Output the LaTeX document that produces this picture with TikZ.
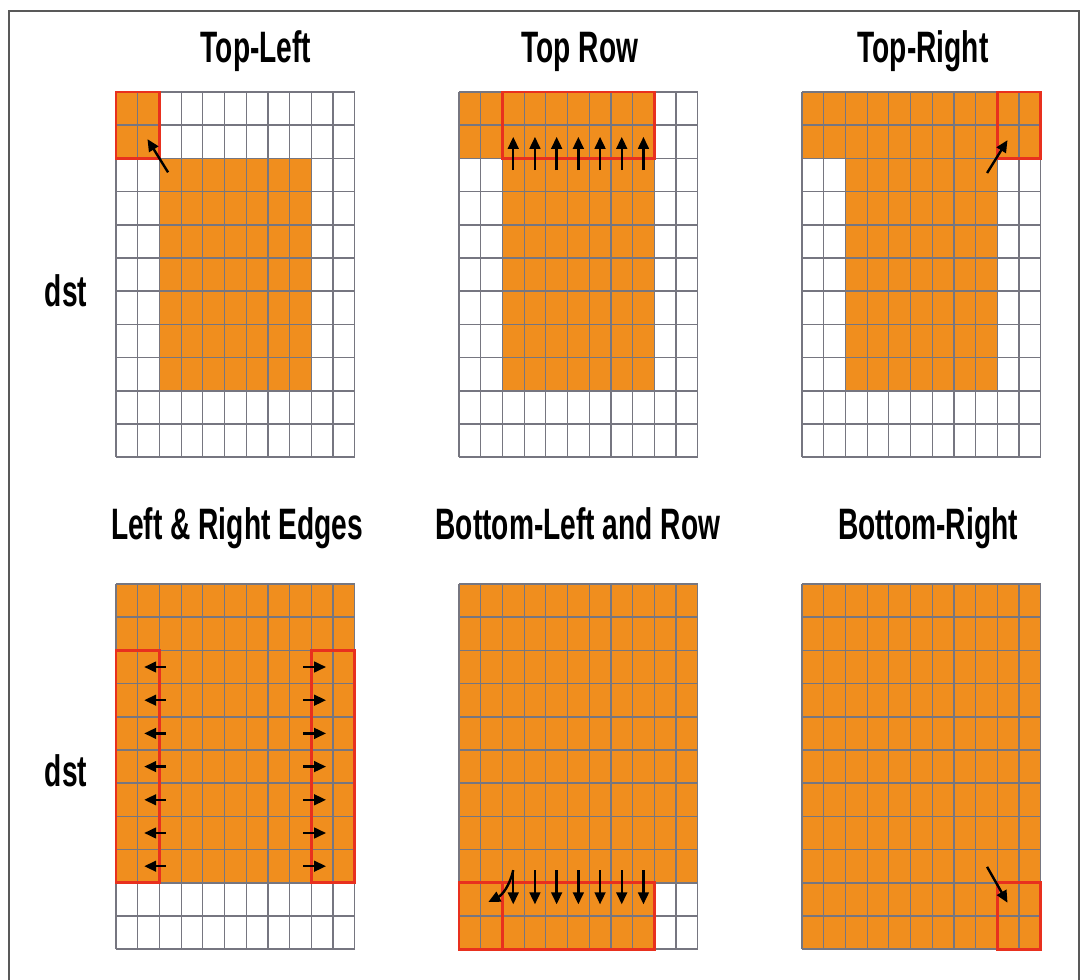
\documentclass[tikz,border=0pt]{standalone}
\usepackage{fontspec}
\newfontfamily\labelfont[FakeStretch=0.64]{Liberation Sans}
\usetikzlibrary{arrows.meta}
\definecolor{cellFill} {RGB}{240,142,30}
\definecolor{cellLine} {RGB}{118,118,128}
\definecolor{haloRed}  {RGB}{232,48,30}
\definecolor{frameGray}{gray}{0.35}

% 11 x 11 cells, drawn in cell units
\newcommand\cellgrid{%
  \foreach \i in {0,...,11} \draw[vline] (\i,0) -- (\i,11);
  \foreach \j in {0,...,11} \draw[hline] (0,\j) -- (11,\j);
}

\begin{document}
\begin{tikzpicture}[x=0.75pt, y=-0.75pt,
      title/.style={font=\labelfont\bfseries\fontsize{33}{36}\selectfont, anchor=base},
      hotcell/.style={fill=cellFill},
      vline/.style={draw=cellLine, line width=0.9pt},
      hline/.style={draw=cellLine, line width=1.3pt},
      halo/.style={draw=haloRed, line width=2.1pt},
      mv/.style={-{Triangle[length=9pt,width=8pt]}, line width=1.8pt, draw=black},
      panel/.style={x=16.275pt, y=-24.9pt}]
    \useasboundingbox (0,0) rectangle (1083,980);
    \draw[frameGray, line width=1.1pt] (9,980) -- (9,11) -- (1079,11) -- (1079,980);

    % titles
    \node[title] (t-tl) at (256,63) {Top-Left};
    \node[title] (t-tr) at (580,63) {Top Row};
    \node[title] (t-trt) at (923,63) {Top-Right};
    \node[title] (t-lr) at (237,540) {Left \& Right Edges};
    \node[title] (t-bl) at (578,540) {Bottom-Left and Row};
    \node[title] (t-br) at (928,540) {Bottom-Right};
    \node[title] (dst-a) at (66,307) {dst};
    \node[title] (dst-b) at (66,787) {dst};

    % top-left
    \begin{scope}[shift={(116,92)}, panel]
      \fill[hotcell] (2,2) rectangle (9,9);
      \fill[hotcell] (0,0) rectangle (2,2);
      \cellgrid
      \draw[halo] (0,0) rectangle (2,2);
      \coordinate (tl-a) at (2.4,2.42);
      \coordinate (tl-b) at (1.45,1.42);
      \draw[mv] (tl-a) -- (tl-b);
    \end{scope}

    % top row
    \begin{scope}[shift={(459,92)}, panel]
      \fill[hotcell] (0,0) rectangle (9,2);
      \fill[hotcell] (2,2) rectangle (9,9);
      \cellgrid
      \draw[halo] (2,0) rectangle (9,2);
      \foreach \i in {2,...,8} {
        \coordinate (up\i-a) at (\i+0.5,2.35);
        \coordinate (up\i-b) at (\i+0.5,1.35);
        \draw[mv] (up\i-a) -- (up\i-b);
      }
    \end{scope}

    % top-right
    \begin{scope}[shift={(802,92)}, panel]
      \fill[hotcell] (0,0) rectangle (11,2);
      \fill[hotcell] (2,2) rectangle (9,9);
      \cellgrid
      \draw[halo] (9,0) rectangle (11,2);
      \coordinate (tr-a) at (8.53,2.44);
      \coordinate (tr-b) at (9.47,1.45);
      \draw[mv] (tr-a) -- (tr-b);
    \end{scope}

    % left and right edges
    \begin{scope}[shift={(116,584)}, panel]
      \fill[hotcell] (0,0) rectangle (11,9);
      \cellgrid
      \draw[halo] (0,2) rectangle (2,9);
      \draw[halo] (9,2) rectangle (11,9);
      \foreach \j in {2,...,8} {
        \coordinate (lf\j-a) at (2.3,\j+0.5);
        \coordinate (lf\j-b) at (1.3,\j+0.5);
        \coordinate (rt\j-a) at (8.62,\j+0.5);
        \coordinate (rt\j-b) at (9.68,\j+0.5);
        \draw[mv] (lf\j-a) -- (lf\j-b);
        \draw[mv] (rt\j-a) -- (rt\j-b);
      }
    \end{scope}

    % bottom-left and row
    \begin{scope}[shift={(459,584)}, panel]
      \fill[hotcell] (0,0) rectangle (11,9);
      \fill[hotcell] (0,9) rectangle (9,11);
      \cellgrid
      \draw[halo] (0,9) rectangle (9,11);
      \draw[halo] (2,9) -- (2,11);
      \foreach \i in {2,...,8} {
        \coordinate (dn\i-a) at (\i+0.5,8.62);
        \coordinate (dn\i-b) at (\i+0.5,9.65);
        \draw[mv] (dn\i-a) -- (dn\i-b);
      }
      \coordinate (bl-b) at (1.35,9.58);
      \draw[mv] (dn2-a) to[bend left=25] (bl-b);
    \end{scope}

    % bottom-right
    \begin{scope}[shift={(802,584)}, panel]
      \fill[hotcell] (0,0) rectangle (11,11);
      \cellgrid
      \draw[halo] (9,9) rectangle (11,11);
      \coordinate (br-a) at (8.53,8.52);
      \coordinate (br-b) at (9.47,9.6);
      \draw[mv] (br-a) -- (br-b);
    \end{scope}
  \end{tikzpicture}
\end{document}
